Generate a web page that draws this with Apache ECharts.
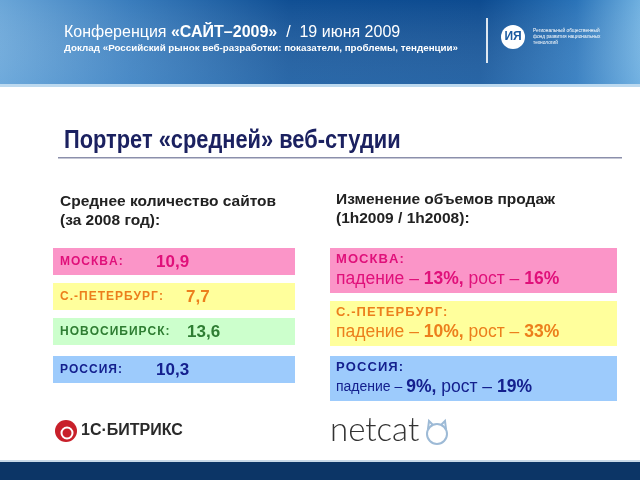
<!DOCTYPE html>
<html><head><meta charset="utf-8">
<script src="https://cdn.jsdelivr.net/npm/echarts@6/dist/echarts.min.js"></script>
<style>html,body{margin:0;padding:0;background:#fff}#c{width:640px;height:480px}</style>
</head><body><div id="c"></div>
<script>
// ---- data ----
var headerTitle = ['Конференция ', '«САЙТ–2009»', '  /  19 июня 2009'];
var headerSub = 'Доклад «Российский рынок веб-разработки: показатели, проблемы, тенденции»';
var slideTitle = 'Портрет «средней» веб-студии';
var leftHeading = ['Среднее количество сайтов', '(за 2008 год):'];
var rightHeading = ['Изменение объемов продаж', '(1h2009 / 1h2008):'];
var leftRegions = ['МОСКВА:', 'С.-ПЕТЕРБУРГ:', 'НОВОСИБИРСК:', 'РОССИЯ:'];
var leftValues = ['10,9', '7,7', '13,6', '10,3'];
var rightRegions = ['МОСКВА:', 'С.-ПЕТЕРБУРГ:', 'РОССИЯ:'];
var rightDecline = ['13%', '10%', '9%'];
var rightGrowth = ['16%', '33%', '19%'];

// ---- styles ----
var boxFill = ['#fb95c8', '#ffff9c', '#ccffcc', '#9dcbfc'];
var textCol = ['#e0107a', '#ec7f1c', '#2e7d32', '#14208e'];
var leftValX = [156, 186, 187, 156];
var leftBoxY = [248, 283, 318, 356];
var rightBoxY = [248, 301, 356];
var rightColIdx = [0, 1, 3];
var FF = '"Liberation Sans", Arial, sans-serif';

var chart = echarts.init(document.getElementById('c'), null, {renderer: 'canvas'});
var g = [];
function sp(s) { return s.split('').join('\u200A'); }
// header
g.push({type: 'rect', shape: {x: 0, y: 0, width: 640, height: 84}, style: {fill: new echarts.graphic.LinearGradient(0, 0, 1, 0, [
  {offset: 0, color: '#6aa6d8'}, {offset: 0.2, color: '#3a7dbd'}, {offset: 0.45, color: '#104f94'},
  {offset: 0.75, color: '#0d4b90'}, {offset: 0.9, color: '#2a73b8'}, {offset: 1, color: '#6fb0e0'}])}});
g.push({type: 'rect', shape: {x: 0, y: 0, width: 640, height: 84}, style: {fill: new echarts.graphic.LinearGradient(0, 0, 0, 1, [
  {offset: 0, color: 'rgba(255,255,255,0)'}, {offset: 1, color: 'rgba(120,180,230,0.25)'}])}});
g.push({type: 'rect', shape: {x: 0, y: 84, width: 640, height: 3}, style: {fill: '#bcd9ef'}});
g.push({type: 'text', x: 64, y: 33, style: {text: '{a|' + headerTitle[0] + '}{b|' + headerTitle[1] + '}{a|' + headerTitle[2] + '}',
  rich: {a: {fill: '#fff', fontSize: 16, fontFamily: FF}, b: {fill: '#fff', fontSize: 16, fontWeight: 'bold', fontFamily: FF}}, verticalAlign: 'middle'}});
g.push({type: 'text', x: 64, y: 48, style: {text: headerSub, fill: '#fff', fontSize: 9.8, fontWeight: 'bold', fontFamily: FF, verticalAlign: 'middle'}});
g.push({type: 'rect', shape: {x: 486, y: 18, width: 2, height: 45}, style: {fill: 'rgba(255,255,255,0.85)'}});
g.push({type: 'circle', shape: {cx: 513, cy: 37, r: 12}, style: {fill: '#fff'}});
g.push({type: 'text', x: 513, y: 37, style: {text: 'ИЯ', fill: '#1a5aa0', fontSize: 12, fontWeight: 'bold', fontFamily: FF, align: 'center', verticalAlign: 'middle'}});
g.push({type: 'text', x: 533, y: 37, style: {text: 'Региональный общественный\nфонд развития национальных\nтехнологий', fill: '#fff', fontSize: 4.8, lineHeight: 6, fontFamily: FF, verticalAlign: 'middle'}});
// title
g.push({type: 'text', x: 64, y: 141, scaleX: 0.873, style: {text: slideTitle, fill: '#1b2160', fontSize: 25, fontWeight: 'bold', fontFamily: FF, verticalAlign: 'middle'}});
g.push({type: 'rect', shape: {x: 58, y: 157, width: 564, height: 1.5}, style: {fill: '#8b8fab'}});
// headings
g.push({type: 'text', x: 60, y: 211, style: {text: leftHeading.join('\n'), fill: '#222', fontSize: 15.5, lineHeight: 19, fontWeight: 'bold', fontFamily: FF, verticalAlign: 'middle'}});
g.push({type: 'text', x: 336, y: 209, style: {text: rightHeading.join('\n'), fill: '#222', fontSize: 15.5, lineHeight: 19, fontWeight: 'bold', fontFamily: FF, verticalAlign: 'middle'}});
// left boxes
for (var i = 0; i < leftRegions.length; i++) {
  var y = leftBoxY[i];
  g.push({type: 'rect', shape: {x: 53, y: y, width: 242, height: 27}, style: {fill: boxFill[i]}});
  g.push({type: 'text', x: 60, y: y + 14, style: {text: sp(leftRegions[i]), fill: textCol[i], fontSize: 12, fontWeight: 'bold', fontFamily: FF, verticalAlign: 'middle'}});
  g.push({type: 'text', x: leftValX[i], y: y + 14, style: {text: leftValues[i], fill: textCol[i], fontSize: 17, fontWeight: 'bold', fontFamily: FF, verticalAlign: 'middle'}});
}
// right boxes
for (var j = 0; j < rightRegions.length; j++) {
  var yy = rightBoxY[j], c = textCol[rightColIdx[j]];
  g.push({type: 'rect', shape: {x: 330, y: yy, width: 287, height: 45}, style: {fill: boxFill[rightColIdx[j]]}});
  g.push({type: 'text', x: 336, y: yy + 11, style: {text: sp(rightRegions[j]), fill: c, fontSize: 13, fontWeight: 'bold', fontFamily: FF, verticalAlign: 'middle'}});
  var small = j === 2;
  g.push({type: 'text', x: 336, y: yy + 31, style: {
    text: '{n|падение – }{b|' + rightDecline[j] + ',}{m| рост – }{b|' + rightGrowth[j] + '}',
    verticalAlign: 'middle',
    rich: {
      n: {fill: c, fontSize: small ? 14 : 17.5, fontFamily: FF},
      m: {fill: c, fontSize: 17.5, fontFamily: FF},
      b: {fill: c, fontSize: 17.5, fontWeight: 'bold', fontFamily: FF}
    }}});
}
// logos
g.push({type: 'circle', shape: {cx: 66, cy: 431, r: 11}, style: {fill: '#c8202a'}});
g.push({type: 'circle', shape: {cx: 67, cy: 433, r: 5.5}, style: {fill: 'none', stroke: '#fff', lineWidth: 2}});
g.push({type: 'text', x: 81, y: 431, style: {text: '1С·БИТРИКС', fill: '#2a2a2a', fontSize: 16, fontWeight: 'bold', fontFamily: FF, verticalAlign: 'middle'}});
g.push({type: 'text', x: 330, y: 430, style: {text: 'netcat', fill: '#333', fontSize: 33, fontFamily: 'Lato, sans-serif', fontWeight: 300, verticalAlign: 'middle'}});
g.push({type: 'circle', shape: {cx: 437, cy: 434, r: 10}, style: {fill: 'none', stroke: '#9dbad6', lineWidth: 2}});
g.push({type: 'polyline', shape: {points: [[428, 429], [429, 421], [433, 425]]}, style: {stroke: '#9dbad6', lineWidth: 2, fill: 'none'}});
g.push({type: 'polyline', shape: {points: [[441, 425], [445, 421], [446, 429]]}, style: {stroke: '#9dbad6', lineWidth: 2, fill: 'none'}});
// footer
g.push({type: 'rect', shape: {x: 0, y: 460, width: 640, height: 2}, style: {fill: '#c9d9e8'}});
g.push({type: 'rect', shape: {x: 0, y: 462, width: 640, height: 18}, style: {fill: '#0c3566'}});

chart.setOption({animation: false, graphic: {elements: g}});
</script></body></html>
